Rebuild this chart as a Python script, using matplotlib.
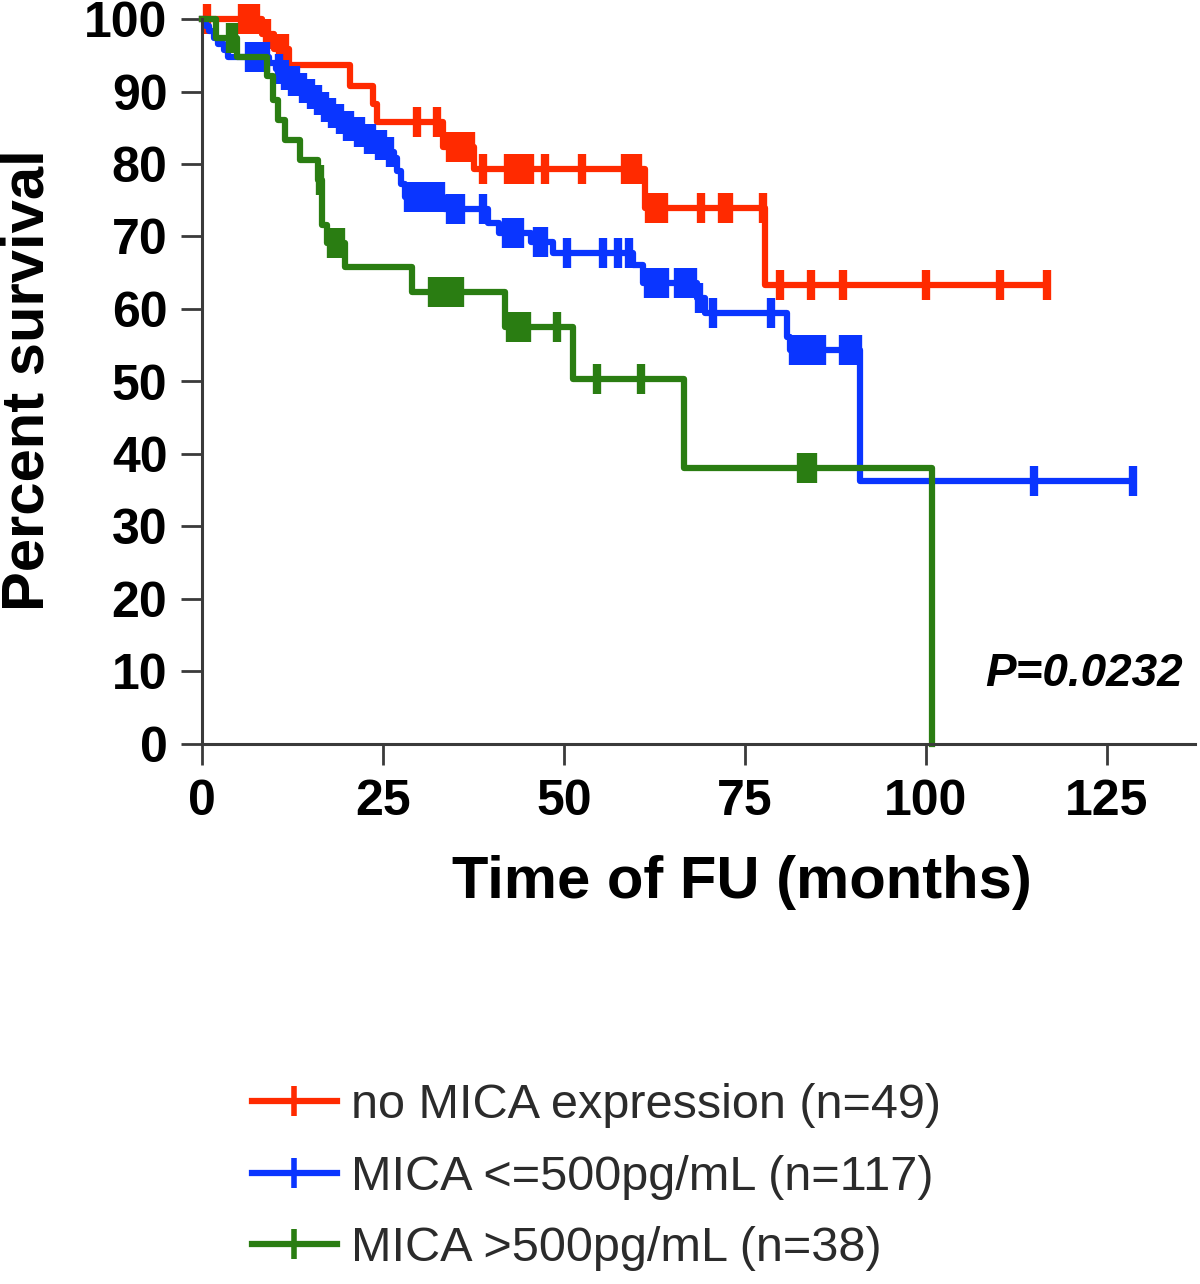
import matplotlib
matplotlib.use("Agg")
import matplotlib.pyplot as plt
from matplotlib.lines import Line2D
import numpy as np

plt.rcParams['font.family'] = ['Liberation Sans', 'DejaVu Sans']

# Kaplan-Meier steps: month of each drop and the survival (%) after it
red_times = [0, 8.3, 10.0, 12.0, 20.4, 23.6, 24.2, 33.3, 37.6, 61.2, 77.8]
red_surv = [100, 97.9, 95.9, 93.6, 90.8, 88.3, 85.8, 82.3, 79.3, 73.9, 63.3]
red_end = 116.8
red_cens = [0.7, 5.5, 6.5, 7.5, 9.0, 10.8, 11.5, 29.7, 32.5, 34.2, 35.2, 36.3, 37.2,
            38.8, 42.3, 43.3, 44.3, 45.3, 47.4, 52.5, 58.5, 59.5, 60.3, 61.8, 62.8,
            63.8, 69.0, 71.8, 72.8, 77.5, 79.8, 84.2, 88.5, 100.1, 110.2, 116.8]

blue_times = [0, 0.5, 1.0, 1.6, 2.2, 3.0, 3.6, 9.3, 10.2, 11.0, 12.0, 13.5, 14.5, 15.5,
              16.5, 17.5, 18.5, 19.5, 21.0, 22.5, 24.0, 25.5, 26.5, 27.0, 27.5, 28.0,
              33.5, 39.5, 41.0, 45.5, 48.5, 59.5, 61.0, 68.4, 69.5, 80.8, 81.3, 90.9]
blue_surv = [100, 99.1, 98.3, 97.4, 96.6, 95.7, 94.8, 94.0, 93.1, 92.3, 91.4, 90.5, 89.7,
             88.8, 87.9, 87.0, 86.2, 85.3, 84.4, 83.5, 82.6, 81.7, 80.8, 79.0, 77.2, 75.4,
             73.8, 71.9, 70.5, 69.2, 67.7, 66.0, 63.6, 61.5, 59.4, 56.1, 54.3, 36.3]
blue_end = 128.6
blue_cens = [6.5, 7.2, 8.0, 8.8, 10.6, 11.5, 12.5, 13.0, 14.0, 15.0, 16.0, 17.0, 18.0,
             19.0, 20.0, 20.5, 21.5, 22.0, 23.0, 23.5, 24.5, 25.0, 26.0, 28.5, 29.2,
             30.0, 30.8, 31.5, 32.2, 33.0, 34.3, 35.0, 35.8, 38.8, 42.0, 43.0, 44.0,
             46.3, 47.2, 50.4, 55.4, 57.5, 59.0, 61.6, 62.4, 63.2, 64.0, 65.8, 66.8,
             67.8, 68.7, 70.6, 78.6, 81.6, 82.4, 83.2, 84.0, 84.8, 85.6, 88.5, 89.7,
             90.7, 115.0, 128.6]

green_times = [0, 2.0, 4.8, 9.0, 9.8, 10.5, 11.5, 13.5, 16.0, 16.6, 17.3, 19.8, 29.0,
               41.9, 51.2, 66.6, 100.8]
green_surv = [100, 97.4, 94.7, 92.1, 88.8, 86.1, 83.3, 80.5, 77.8, 71.6, 69.1, 65.8,
              62.3, 57.5, 50.4, 38.1, 0]
green_end = 100.8
green_cens = [3.8, 4.4, 16.3, 17.8, 18.5, 19.2, 31.8, 32.8, 33.8, 34.8, 35.7, 42.6,
              43.4, 44.2, 44.9, 49.0, 54.6, 60.6, 82.7, 83.5, 84.4]

labels = ["no MICA expression (n=49)", "MICA <=500pg/mL (n=117)", "MICA >500pg/mL (n=38)"]
colors = ["#ff2a00", "#0a35ff", "#2a7d12"]

x_ticks = [0, 25, 50, 75, 100, 125]
y_ticks = [0, 10, 20, 30, 40, 50, 60, 70, 80, 90, 100]


def km(ax, times, surv, end, cens, color):
    t = np.append(times, end)
    s = np.append(surv, surv[-1])
    ax.step(t, s, where='post', color=color, lw=4.5, clip_on=False)
    idx = np.searchsorted(times, cens, side='right') - 1
    ax.plot(cens, np.array(surv)[idx], ls='none', marker='|', ms=21, mew=6,
            color=color, clip_on=False)


W, H = 1200, 1284
fig = plt.figure(figsize=(W / 100, H / 100), dpi=100)
ax = fig.add_axes([202 / W, 1 - 744 / H, (1195 - 202) / W, (744 - 19) / H])

km(ax, red_times, red_surv, red_end, red_cens, colors[0])
km(ax, blue_times, blue_surv, blue_end, blue_cens, colors[1])
km(ax, green_times, green_surv, green_end, green_cens, colors[2])

ax.set_xlim(0, 137.2)
ax.set_ylim(0, 100)
ax.set_xticks(x_ticks)
ax.set_yticks(y_ticks)
for side in ['top', 'right']:
    ax.spines[side].set_visible(False)
for side in ['left', 'bottom']:
    ax.spines[side].set_color('#3a3a3a')
    ax.spines[side].set_linewidth(2.2)
ax.tick_params(length=15, width=2, color='#3a3a3a', labelsize=36, pad=10)
for lab in ax.get_xticklabels() + ax.get_yticklabels():
    lab.set_fontweight('bold')

fig.text(742 / W, 1 - 882 / H, "Time of FU (months)", ha='center', va='center',
         fontsize=43, fontweight='bold')
fig.text(28 / W, 1 - 380 / H, "Percent survival", ha='center', va='center',
         rotation=90, fontsize=43, fontweight='bold')
fig.text(1183 / W, 1 - 674 / H, "P=0.0232", ha='right', va='center', fontsize=33,
         fontweight='bold', fontstyle='italic')

handles = [Line2D([], [], color=c, lw=4.5, marker='|', ms=21, mew=4) for c in colors]
fig.legend(handles, labels, loc='upper left', bbox_to_anchor=(252 / W, 1 - 1083 / H),
           frameon=False, fontsize=35, handlelength=1.74, handletextpad=0.3,
           labelspacing=0.55, borderpad=0, borderaxespad=0, labelcolor='#2b2b2b')

fig.savefig("out.png", dpi=100)
